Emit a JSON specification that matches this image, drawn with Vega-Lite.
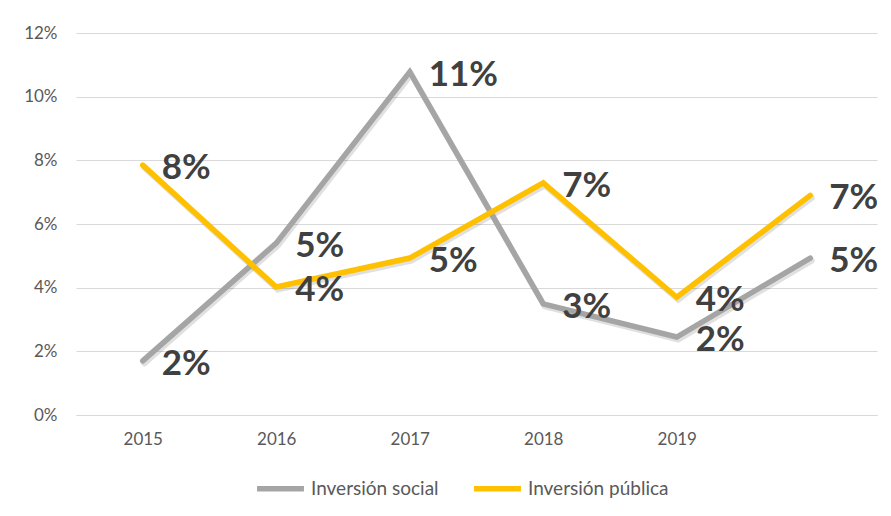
{
  "$schema": "https://vega.github.io/schema/vega-lite/v6.json",
  "width": 801,
  "height": 382,
  "autosize": {"type": "none"},
  "padding": {"left": 76, "top": 33, "right": 14, "bottom": 101},
  "background": "white",
  "config": {
    "view": {"stroke": null},
    "font": "Lato"
  },
  "data": {
    "values": [
      {"year": "2015", "serie": "Inversión social", "valor": 0.017},
      {"year": "2016", "serie": "Inversión social", "valor": 0.054},
      {"year": "2017", "serie": "Inversión social", "valor": 0.1078},
      {"year": "2018", "serie": "Inversión social", "valor": 0.0349},
      {"year": "2019", "serie": "Inversión social", "valor": 0.0245},
      {"year": "", "serie": "Inversión social", "valor": 0.0493},
      {"year": "2015", "serie": "Inversión pública", "valor": 0.0785},
      {"year": "2016", "serie": "Inversión pública", "valor": 0.0402},
      {"year": "2017", "serie": "Inversión pública", "valor": 0.0493},
      {"year": "2018", "serie": "Inversión pública", "valor": 0.0729},
      {"year": "2019", "serie": "Inversión pública", "valor": 0.037},
      {"year": "", "serie": "Inversión pública", "valor": 0.069}
    ]
  },
  "encoding": {
    "x": {
      "field": "year",
      "type": "ordinal",
      "scale": {"type": "point", "domain": ["2015", "2016", "2017", "2018", "2019", ""], "padding": 0.5},
      "axis": {
        "title": null,
        "labelAngle": 0,
        "ticks": false,
        "domain": true,
        "domainColor": "#D9D9D9",
        "labelColor": "#595959",
        "labelFontSize": 17,
        "labelPadding": 16,
        "grid": false
      }
    },
    "y": {
      "field": "valor",
      "type": "quantitative",
      "scale": {"domain": [0, 0.12]},
      "axis": {
        "title": null,
        "values": [0, 0.02, 0.04, 0.06, 0.08, 0.1, 0.12],
        "format": ".0%",
        "domain": false,
        "ticks": false,
        "grid": true,
        "gridColor": "#D9D9D9",
        "gridWidth": 1.2,
        "labelColor": "#595959",
        "labelFontSize": 17,
        "labelPadding": 19
      }
    }
  },
  "layer": [
    {
      "mark": {"type": "line", "stroke": "#000000", "opacity": 0.12, "strokeWidth": 6, "xOffset": 1.5, "yOffset": 2.5, "strokeCap": "round"},
      "encoding": {"detail": {"field": "serie"}}
    },
    {
      "mark": {"type": "line", "strokeWidth": 5.5, "strokeCap": "round"},
      "encoding": {
        "color": {
          "field": "serie",
          "type": "nominal",
          "scale": {"domain": ["Inversión social", "Inversión pública"], "range": ["#A5A5A5", "#FFC000"]},
          "legend": {
            "title": null,
            "orient": "none",
            "direction": "horizontal",
            "legendX": 178,
            "legendY": 429,
            "symbolType": "stroke",
            "symbolSize": 2200,
            "symbolStrokeWidth": 5.5,
            "labelFontSize": 19,
            "labelColor": "#595959",
            "labelOffset": 4,
            "columnPadding": 24
          }
        }
      }
    },
    {
      "mark": {"type": "text", "align": "left", "baseline": "middle", "dx": 19, "dy": 3, "fontSize": 35, "fontWeight": "bold", "color": "#404040"},
      "encoding": {
        "text": {"field": "valor", "type": "quantitative", "format": ".0%"}
      }
    }
  ]
}
